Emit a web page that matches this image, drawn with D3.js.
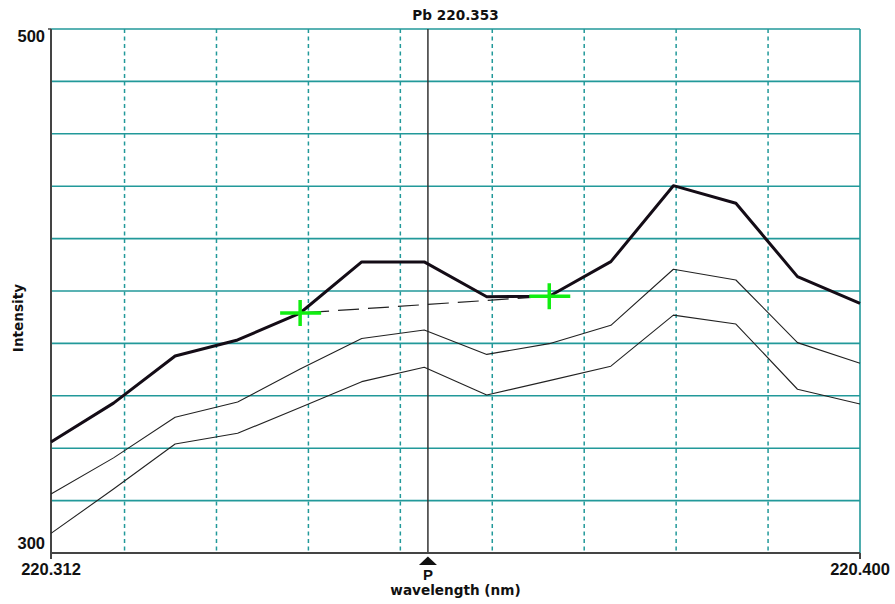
<!DOCTYPE html>
<html>
<head>
<meta charset="utf-8">
<script src="https://cdn.jsdelivr.net/npm/d3@7"></script>
<style>
  html, body { margin: 0; padding: 0; background: #fff; }
  svg { display: block; }
  .tick-label { font-family: "Liberation Sans", Arial, sans-serif; font-weight: bold; font-size: 16.5px; fill: #111; }
  .title { font-family: "DejaVu Sans", Verdana, sans-serif; font-weight: bold; font-size: 13.6px; fill: #111; }
</style>
</head>
<body>
<svg id="chart" width="895" height="604"></svg>
<script>
// Scan wavelengths (nm) and the three intensity traces
const wavelengths = [220.3120, 220.3188, 220.3255, 220.3323, 220.3391, 220.3458, 220.3526,
                     220.3594, 220.3662, 220.3729, 220.3797, 220.3865, 220.3932, 220.4000];
const intensityUpper = [342.4, 357.2, 375.2, 381.3, 391.6, 411.1, 411.1, 397.8, 398.0, 411.2, 440.2, 433.5, 405.5, 395.3];
const intensityMid   = [322.5, 336.3, 351.8, 357.6, 370.2, 381.9, 385.1, 375.8, 379.9, 386.9, 408.3, 404.2, 380.3, 372.4];
const intensityLow   = [307.5, 324.4, 341.6, 345.7, 355.5, 365.4, 370.9, 360.3, 365.8, 371.3, 390.8, 387.4, 362.5, 356.9];

// Background correction points (indices into the upper trace)
const backgroundIdx = [4, 8];

// Axis ranges, grid and labels
const xDomain = [220.312, 220.400];
const yDomain = [300, 500];
const xTickLabels = ["220.312", "220.400"];
const yTickLabels = ["300", "500"];
const xGrid = [220.32, 220.33, 220.34, 220.35, 220.36, 220.37, 220.38, 220.39];
const yGrid = [320, 340, 360, 380, 400, 420, 440, 460, 480, 500];
const peakWavelength = 220.353;
const titleText = "Pb 220.353";

const svg = d3.select("#chart");
const plotL = 51, plotR = 860, plotT = 29, plotB = 553;

const x = d3.scaleLinear().domain(xDomain).range([plotL, plotR]);
const y = d3.scaleLinear().domain(yDomain).range([plotB, plotT]);

const teal = "#22999a";

// Horizontal grid (solid)
svg.append("g").selectAll("line").data(yGrid).join("line")
  .attr("x1", plotL).attr("x2", plotR)
  .attr("y1", d => y(d)).attr("y2", d => y(d))
  .attr("stroke", teal).attr("stroke-width", 1.6);

// Vertical grid (dashed)
svg.append("g").selectAll("line").data(xGrid).join("line")
  .attr("x1", d => x(d)).attr("x2", d => x(d))
  .attr("y1", plotT).attr("y2", plotB)
  .attr("stroke", teal).attr("stroke-width", 1.5)
  .attr("stroke-dasharray", "4,3.5");

// Right frame edge
svg.append("line")
  .attr("x1", x(xDomain[1])).attr("x2", x(xDomain[1]))
  .attr("y1", plotT).attr("y2", plotB)
  .attr("stroke", teal).attr("stroke-width", 1.6);

// Peak position marker line
svg.append("line")
  .attr("x1", x(peakWavelength)).attr("x2", x(peakWavelength))
  .attr("y1", plotT).attr("y2", plotB)
  .attr("stroke", "#333").attr("stroke-width", 1.5);

// Axes lines
const axisColor = "#444";
svg.append("line").attr("x1", plotL).attr("x2", plotL).attr("y1", plotT).attr("y2", plotB)
  .attr("stroke", axisColor).attr("stroke-width", 2);
svg.append("line").attr("x1", plotL - 3).attr("x2", plotL).attr("y1", plotT).attr("y2", plotT)
  .attr("stroke", axisColor).attr("stroke-width", 1.5);
svg.append("line").attr("x1", plotL).attr("x2", plotR).attr("y1", plotB).attr("y2", plotB)
  .attr("stroke", axisColor).attr("stroke-width", 2);
svg.append("g").selectAll("line").data(xDomain).join("line")
  .attr("x1", d => x(d)).attr("x2", d => x(d))
  .attr("y1", plotB).attr("y2", plotB + 6)
  .attr("stroke", axisColor).attr("stroke-width", 2);

// Traces
const line = d3.line().x((d, i) => x(wavelengths[i])).y(d => y(d));

[intensityLow, intensityMid].forEach(series => {
  svg.append("path").datum(series)
    .attr("d", line).attr("fill", "none")
    .attr("stroke", "#222").attr("stroke-width", 1.1)
    .attr("stroke-linejoin", "round");
});

// Background line between correction points
const bgPts = backgroundIdx.map(i => [wavelengths[i], intensityUpper[i]]);
svg.append("path").datum(bgPts)
  .attr("d", d3.line().x(d => x(d[0])).y(d => y(d[1])))
  .attr("fill", "none").attr("stroke", "#222").attr("stroke-width", 1.2)
  .attr("stroke-dasharray", "21,9").attr("stroke-dashoffset", -8);

svg.append("path").datum(intensityUpper)
  .attr("d", line).attr("fill", "none")
  .attr("stroke", "#140c16").attr("stroke-width", 3)
  .attr("stroke-linejoin", "round");

// Green crosses at correction points
const crosses = svg.append("g").selectAll("g").data(bgPts).join("g")
  .attr("transform", d => `translate(${x(d[0])},${y(d[1])})`);
crosses.append("line").attr("x1", -20).attr("x2", 21).attr("y1", 0).attr("y2", 0)
  .attr("stroke", "#11ee11").attr("stroke-width", 3.5);
crosses.append("line").attr("x1", 0).attr("x2", 0).attr("y1", -13).attr("y2", 13)
  .attr("stroke", "#11ee11").attr("stroke-width", 3.5);

// Tick labels
svg.append("text").attr("class", "tick-label").attr("text-anchor", "end")
  .attr("x", plotL - 6).attr("y", y(yDomain[1]) + 13).text(yTickLabels[1]);
svg.append("text").attr("class", "tick-label").attr("text-anchor", "end")
  .attr("x", plotL - 6).attr("y", y(yDomain[0]) - 4).text(yTickLabels[0]);
svg.append("g").selectAll("text").data(xDomain).join("text")
  .attr("class", "tick-label").attr("text-anchor", "middle")
  .attr("x", d => x(d)).attr("y", plotB + 22)
  .text((d, i) => xTickLabels[i]);

// Peak arrow and label
const px = x(peakWavelength);
svg.append("path")
  .attr("d", `M${px},${plotB + 3.5}L${px + 9},${plotB + 12}L${px - 9},${plotB + 12}Z`)
  .attr("fill", "#111");
svg.append("text").attr("class", "tick-label").attr("text-anchor", "middle")
  .style("font-size", "15px")
  .attr("x", px).attr("y", plotB + 27).text("P");

// Titles
svg.append("text").attr("class", "title").attr("text-anchor", "middle")
  .attr("x", (plotL + plotR) / 2).attr("y", 19.5).text(titleText);
svg.append("text").attr("class", "title").attr("text-anchor", "middle")
  .attr("x", (plotL + plotR) / 2).attr("y", 595).text("wavelength (nm)");
svg.append("text").attr("class", "title").attr("text-anchor", "middle")
  .attr("transform", "translate(23,318) rotate(-90)").text("Intensity");
</script>
</body>
</html>
